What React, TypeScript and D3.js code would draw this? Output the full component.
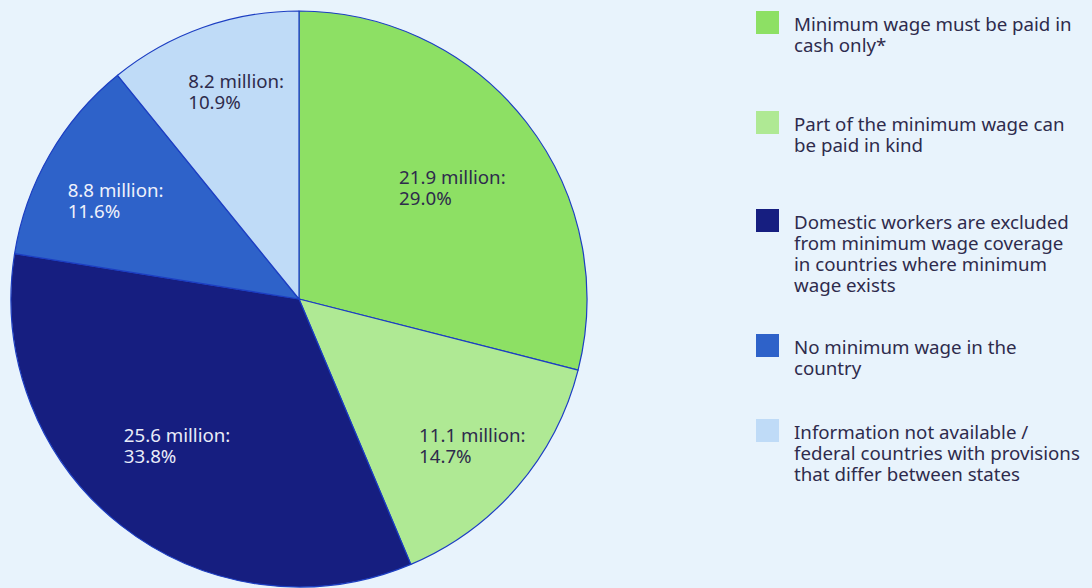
import React, { FC, useMemo } from 'react';
import * as d3 from 'd3';

// Data
const categories = [
  'Minimum wage must be paid in cash only*',
  'Part of the minimum wage can be paid in kind',
  'Domestic workers are excluded from minimum wage coverage in countries where minimum wage exists',
  'No minimum wage in the country',
  'Information not available / federal countries with provisions that differ between states',
];
const legendLines = [
  ['Minimum wage must be paid in', 'cash only*'],
  ['Part of the minimum wage can', 'be paid in kind'],
  ['Domestic workers are excluded', 'from minimum wage coverage', 'in countries where minimum', 'wage exists'],
  ['No minimum wage in the', 'country'],
  ['Information not available /', 'federal countries with provisions', 'that differ between states'],
];
const millions = [21.9, 11.1, 25.6, 8.8, 8.2];
const percents = ['29.0%', '14.7%', '33.8%', '11.6%', '10.9%'];

const COLORS = ['#8de064', '#afe994', '#161e80', '#2e62c9', '#bfdbf7'];
const TEXT_COLORS = ['#2e2b4c', '#2e2b4c', '#e9ecf8', '#eef1fb', '#2e2b4c'];

// layout
const W = 1092;
const H = 588;
const CX = 299;
const CY = 299;
const R = 288;
const LABEL_R = [0.658, 0.788, 0.663, 0.722, 0.75];
const LABEL_NUDGE = [1.9, -0.5, 1.6, -1.9, 2.6]; // degrees
const LEGEND_TOPS = [11, 111, 209, 334, 419];
const FONT = '"Noto Sans", sans-serif';
const FS = 18.7;
const LH = 21;

const measure = (txt: string) => {
  const c = document.createElement('canvas').getContext('2d');
  if (!c) return txt.length * 8.3;
  c.font = `${FS}px "Noto Sans"`;
  return c.measureText(txt).width;
};

const App: FC = () => {
  const arcs = useMemo(() => {
    const pie = d3.pie<number>().sort(null).value(d => d).startAngle(0).endAngle(2 * Math.PI);
    return pie(millions);
  }, []);
  const arc = d3.arc<d3.PieArcDatum<number>>().innerRadius(0).outerRadius(R);

  return (
    <div style={{ position: 'absolute', left: 0, top: 0, width: W, height: H }}>
      <svg width={W} height={H} style={{ display: 'block', background: '#e8f3fc' }} fontFamily={FONT}>
        <g transform={`translate(${CX},${CY})`}>
          {arcs.map((a, i) => (
            <path key={i} d={arc(a) || undefined} fill={COLORS[i]} stroke="#1c3ec2" strokeWidth={1.2} strokeLinejoin="round">
              <title>{categories[i]}</title>
            </path>
          ))}
          {arcs.map((a, i) => {
            const lr = R * LABEL_R[i];
            const ang = (a.startAngle + a.endAngle) / 2 + (LABEL_NUDGE[i] * Math.PI) / 180;
            const lx = lr * Math.sin(ang);
            const ly = -lr * Math.cos(ang);
            const line1 = `${millions[i]} million:`;
            const w = measure(line1);
            const x = lx - w / 2;
            const y = ly - 4;
            return (
              <text key={i} x={x} y={y} fill={TEXT_COLORS[i]} fontSize={FS}>
                <tspan x={x} y={y}>{line1}</tspan>
                <tspan x={x} y={y + LH}>{percents[i]}</tspan>
              </text>
            );
          })}
        </g>
        <g>
          {legendLines.map((lines, i) => (
            <g key={i} transform={`translate(756,${LEGEND_TOPS[i]})`}>
              <rect width={23} height={23} fill={COLORS[i]} />
              <text x={38} y={20} fill="#2e2b4c" fontSize={FS}>
                {lines.map((l, j) => (
                  <tspan key={j} x={38} y={20 + j * LH}>{l}</tspan>
                ))}
              </text>
            </g>
          ))}
        </g>
      </svg>
    </div>
  );
};

export default App;
